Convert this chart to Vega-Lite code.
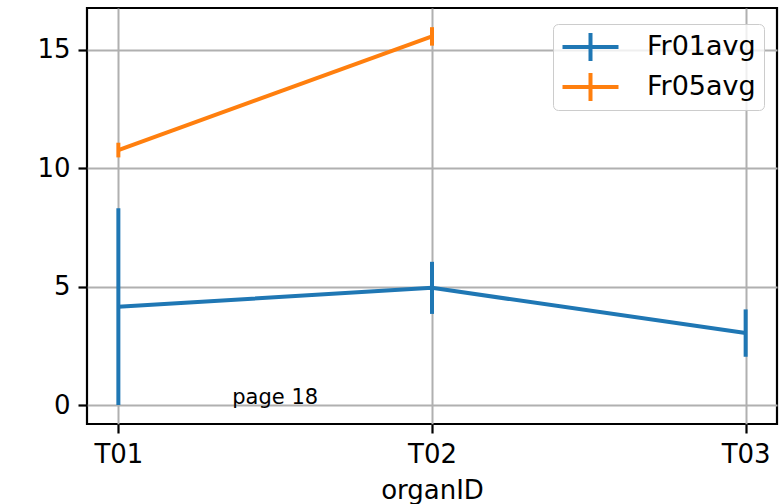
{
  "$schema": "https://vega.github.io/schema/vega-lite/v6.json",
  "width": 690,
  "height": 416,
  "autosize": {"type": "none"},
  "padding": {"left": 87, "top": 8, "right": 2, "bottom": 80},
  "background": "white",
  "config": {
    "font": "DejaVu Sans",
    "view": {"stroke": "black", "strokeWidth": 2.2},
    "axis": {
      "domain": false, "grid": true, "gridColor": "#b0b0b0", "gridWidth": 2,
      "tickColor": "black", "tickSize": 9, "tickWidth": 2.2,
      "labelFont": "DejaVu Sans", "labelFontSize": 26, "labelColor": "black", "labelPadding": 8,
      "titleFont": "DejaVu Sans", "titleFontSize": 26, "titleFontWeight": "normal", "titleColor": "black"
    }
  },
  "data": {"values": [
    {"organID": "T01", "organIndex": 0, "series": "Fr01avg", "mean": 4.155, "err": 4.155},
    {"organID": "T02", "organIndex": 1, "series": "Fr01avg", "mean": 4.95, "err": 1.1},
    {"organID": "T03", "organIndex": 2, "series": "Fr01avg", "mean": 3.04, "err": 1.0},
    {"organID": "T01", "organIndex": 0, "series": "Fr05avg", "mean": 10.77, "err": 0.31},
    {"organID": "T02", "organIndex": 1, "series": "Fr05avg", "mean": 15.57, "err": 0.39}
  ]},
  "layer": [
    {
      "mark": {"type": "line", "strokeWidth": 4},
      "encoding": {
        "x": {"field": "organIndex", "type": "quantitative",
              "scale": {"domain": [-0.1, 2.1], "nice": false, "zero": false},
              "axis": {"values": [0, 1, 2], "labelExpr": "['T01','T02','T03'][datum.value]", "title": "organID", "titlePadding": 10}},
        "y": {"field": "mean", "type": "quantitative",
              "scale": {"domain": [-0.8, 16.77], "nice": false, "zero": false},
              "axis": {"values": [0, 5, 10, 15], "title": null}},
        "color": {"field": "series", "type": "nominal",
                  "scale": {"domain": ["Fr01avg", "Fr05avg"], "range": ["#1f77b4", "#ff7f0e"]},
                  "legend": {"orient": "none", "legendX": 466, "legendY": 16, "title": null,
                             "symbolType": "M-4,0H4M0,-2V2", "symbolSize": 196, "symbolStrokeWidth": 4,
                             "symbolFillColor": "transparent", "symbolOffset": 16, "labelOffset": 43,
                             "labelFontSize": 27, "labelFont": "DejaVu Sans", "labelColor": "black",
                             "padding": 8, "rowPadding": 10, "clipHeight": 30,
                             "fillColor": "rgba(255,255,255,0.8)", "strokeColor": "#cccccc", "cornerRadius": 5}}
      }
    },
    {
      "mark": {"type": "errorbar", "thickness": 4},
      "encoding": {
        "x": {"field": "organIndex", "type": "quantitative"},
        "y": {"field": "mean", "type": "quantitative"},
        "yError": {"field": "err"},
        "color": {"field": "series", "type": "nominal"}
      }
    },
    {
      "data": {"values": [{"xpos": 0.5, "ypos": 0.05, "note": "page 18"}]},
      "mark": {"type": "text", "fontSize": 21, "align": "center", "baseline": "alphabetic", "color": "black"},
      "encoding": {
        "x": {"field": "xpos", "type": "quantitative"},
        "y": {"field": "ypos", "type": "quantitative"},
        "text": {"field": "note"}
      }
    }
  ]
}
